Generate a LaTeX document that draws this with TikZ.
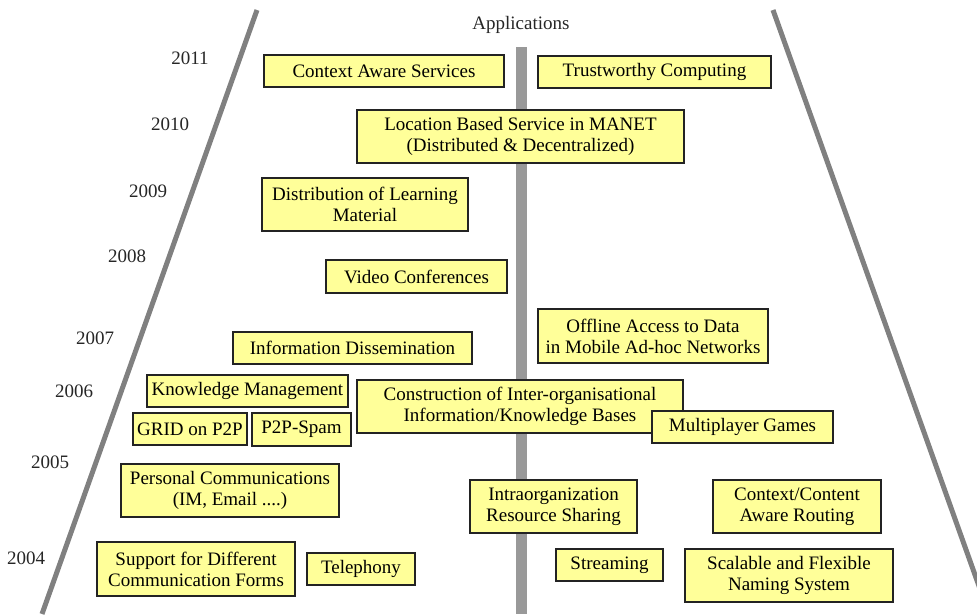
\documentclass[tikz,border=0pt]{standalone}
\usepackage{fontspec}
\setmainfont{Liberation Serif}
\usepackage{tikz}
\usetikzlibrary{positioning}
\definecolor{tlyellow}{RGB}{255,255,153}
\definecolor{tlgray}{RGB}{128,128,128}
\definecolor{tlbar}{RGB}{153,153,153}
\definecolor{tlborder}{RGB}{35,35,35}
\newcommand{\apptext}{\fontsize{19}{21}\selectfont}
\tikzstyle{appbox} = [rectangle, draw=tlborder, fill=tlyellow, line width=1.1pt, inner sep=0pt, align=center, font=\apptext]
\tikzstyle{yearlabel} = [inner sep=0pt, font=\apptext, text=black!85]
\tikzstyle{border} = [line width=5pt, color=tlgray]

\begin{document}
\begin{tikzpicture}[x=1pt, y=-1pt]
\useasboundingbox (0,0) rectangle (977,614);

% Outline of the funnel
\begin{scope}
\clip (0,0) rectangle (977,614);
\draw[border] (257,10) -- (42,614);
\draw[border] (773,10) -- (989,614);
\fill[tlbar] (516,47) rectangle (527,614);
\end{scope}

% Title
\node (apps) [yearlabel] at (521,25) {Applications};

% Years
\node (y2011) [yearlabel] at (190,58) {2011};
\node (y2010) [yearlabel] at (170,124) {2010};
\node (y2009) [yearlabel] at (148,191) {2009};
\node (y2008) [yearlabel] at (127,256) {2008};
\node (y2007) [yearlabel] at (95,338) {2007};
\node (y2006) [yearlabel] at (74,391) {2006};
\node (y2005) [yearlabel] at (50,462) {2005};
\node (y2004) [yearlabel] at (26,558) {2004};

% Applications per year
\node (ctxaware) [appbox, minimum width=240, minimum height=32] at (384,71) {Context Aware Services};
\node (trust) [appbox, minimum width=233, minimum height=32] at (654.5,72) {Trustworthy Computing};
\node (lbs) [appbox, minimum width=327, minimum height=53] at (520.5,136.5) {Location Based Service in MANET\\(Distributed \& Decentralized)};
\node (learning) [appbox, minimum width=206, minimum height=53] at (365,204.5) {Distribution of Learning\\Material};
\node (video) [appbox, minimum width=181, minimum height=33] at (416.5,276.5) {Video Conferences};
\node (offline) [appbox, minimum width=230, minimum height=54] at (653,336) {Offline Access to Data\\in Mobile Ad-hoc Networks};
\node (dissem) [appbox, minimum width=239, minimum height=32] at (352.5,348) {Information Dissemination};
\node (knowmgmt) [appbox, minimum width=201, minimum height=32] at (247.5,391) {Knowledge Management};
\node (grid) [appbox, minimum width=114, minimum height=32] at (190,429) {GRID on P2P};
\node (spam) [appbox, minimum width=99, minimum height=33] at (301.5,429.5) {P2P-Spam};
\node (interorg) [appbox, minimum width=326, minimum height=53] at (520,406.5) {Construction of Inter-organisational\\Information/Knowledge Bases};
\node (games) [appbox, minimum width=181, minimum height=32] at (742.5,427) {Multiplayer Games};
\node (personal) [appbox, minimum width=218, minimum height=53] at (230,490.5) {Personal Communications\\(IM, Email ....)};
\node (intraorg) [appbox, minimum width=167, minimum height=53] at (553.5,506.5) {Intraorganization\\Resource Sharing};
\node (routing) [appbox, minimum width=168, minimum height=53] at (797,506.5) {Context/Content\\Aware Routing};
\node (commforms) [appbox, minimum width=198, minimum height=54] at (196,569) {Support for Different\\Communication Forms};
\node (telephony) [appbox, minimum width=108, minimum height=32] at (361,569) {Telephony};
\node (streaming) [appbox, minimum width=107, minimum height=32] at (609.5,565) {Streaming};
\node (naming) [appbox, minimum width=208, minimum height=53] at (789,575.5) {Scalable and Flexible\\Naming System};
\end{tikzpicture}
\end{document}
